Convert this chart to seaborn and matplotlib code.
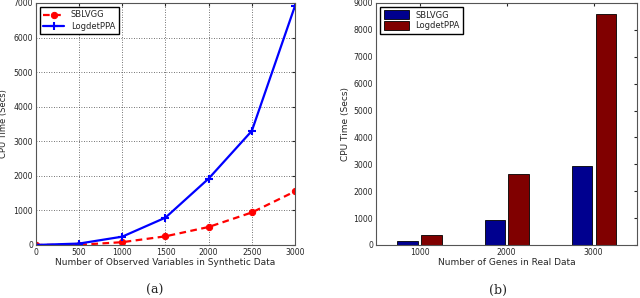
import numpy as np
import pandas as pd
import seaborn as sns
import matplotlib.pyplot as plt

# synthetic data timings
n_vars = [0, 500, 1000, 1500, 2000, 2500, 3000]
sblvgg_syn = [0, 5, 80, 250, 520, 940, 1550]
logdet_syn = [0, 40, 240, 790, 1920, 3300, 6920]

# real data timings
n_genes = ["1000", "2000", "3000"]
sblvgg_real = [150, 920, 2940]
logdet_real = [360, 2640, 8600]

sns.set_style("white")
plt.rcParams["font.family"] = ["DejaVu Sans"]

fig = plt.figure(figsize=(6.4, 2.98), dpi=100)
ax1 = fig.add_axes([0.056, 0.178, 0.405, 0.812])
ax2 = fig.add_axes([0.5875, 0.178, 0.408, 0.812])

# (a) line chart
sns.lineplot(x=n_vars, y=sblvgg_syn, ax=ax1, color="red", dashes=False,
             marker="o", markersize=4.5, mec="red", mfc="red", linewidth=1.6)
sns.lineplot(x=n_vars, y=logdet_syn, ax=ax1, color="blue", dashes=False,
             marker="+", markersize=6, mec="blue", markeredgewidth=1.5, linewidth=1.6)
lines = ax1.get_lines()
lines[0].set_linestyle((0, (3, 2)))
lines[1].set_linestyle("-")
ax1.set_xlim(0, 3000)
ax1.set_ylim(0, 7000)
ax1.set_xticks(range(0, 3001, 500))
ax1.set_yticks(range(0, 7001, 1000))
ax1.grid(True, linestyle=(0, (1, 2)), color="#444444", linewidth=0.6)
ax1.set_xlabel("Number of Observed Variables in Synthetic Data", fontsize=6.5, labelpad=1)
ax1.set_ylabel("CPU Time (Secs)", fontsize=6)
ax1.yaxis.set_label_coords(-0.108, 0.5)
ax1.legend(lines[:2], ["SBLVGG", "LogdetPPA"], loc="upper left", fontsize=6,
           frameon=True, fancybox=False, edgecolor="black", handlelength=2.5,
           borderpad=0.4, labelspacing=0.3, framealpha=1)
fig.text(155 / 640, 1 - 290 / 298, "(a)", ha="center", va="center",
         fontsize=9, family="serif")

# (b) bar chart
df = pd.DataFrame({
    "genes": n_genes * 2,
    "time": sblvgg_real + logdet_real,
    "method": ["SBLVGG"] * 3 + ["LogdetPPA"] * 3,
})
sns.barplot(data=df, x="genes", y="time", hue="method", ax=ax2,
            palette=["#00008f", "#800000"], width=0.55, gap=0.16,
            edgecolor="black", linewidth=0.6, saturation=1)
ax2.set_xlim(-0.5, 2.5)
ax2.set_ylim(0, 9000)
ax2.set_yticks(range(0, 9001, 1000))
ax2.set_xlabel("Number of Genes in Real Data", fontsize=6.5, labelpad=1)
ax2.set_ylabel("CPU Time (Secs)", fontsize=6.5)
ax2.yaxis.set_label_coords(-0.1, 0.5)
ax2.legend(loc="upper left", fontsize=6, frameon=True, fancybox=False,
           edgecolor="black", handlelength=3, handleheight=1.2,
           borderpad=0.4, labelspacing=0.2, title=None, framealpha=1)
fig.text(498 / 640, 1 - 290 / 298, "(b)", ha="center", va="center",
         fontsize=9, family="serif")

for ax in (ax1, ax2):
    ax.tick_params(direction="in", labelsize=5.6, length=2.5, top=True, right=True,
                   pad=2)
    for s in ax.spines.values():
        s.set_color("#555555")
        s.set_linewidth(0.8)

fig.savefig("out.png", dpi=100)
